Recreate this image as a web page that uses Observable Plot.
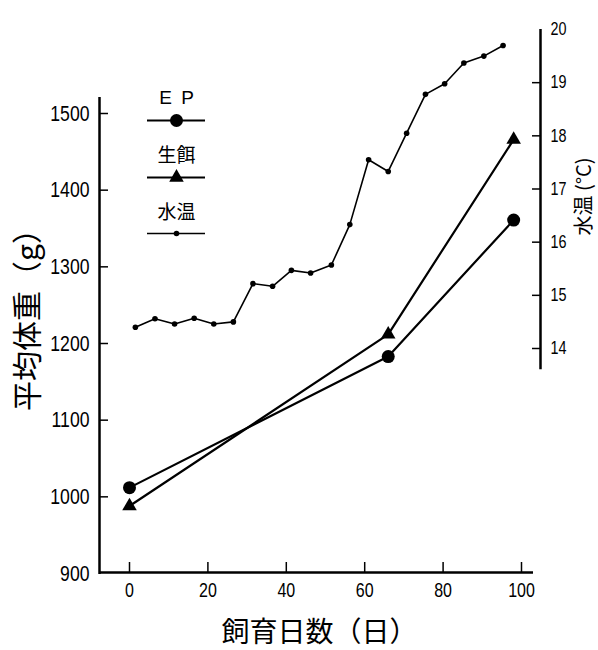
<!DOCTYPE html>
<html>
<head>
<meta charset="utf-8">
<script src="https://cdn.jsdelivr.net/npm/d3@7"></script>
<script src="https://cdn.jsdelivr.net/npm/@observablehq/plot@0.6"></script>
<style>
  html, body { margin: 0; padding: 0; background: #fff; }
  #chart svg { display: block; }
</style>
</head>
<body>
<div id="chart"></div>
<script>
// ---- data ----
const days = [0, 66, 98];
const epWeight = [1012, 1183, 1361];
const liveFeedWeight = [988, 1212, 1466];
const tempDays = [1.5, 6.5, 11.5, 16.5, 21.5, 26.5, 31.5, 36.5, 41.3, 46.2, 51.5, 56.2, 61, 66, 70.7, 75.5, 80.4, 85.3, 90.4, 95.3];
const waterTemp = [14.40, 14.56, 14.46, 14.57, 14.46, 14.50, 15.22, 15.17, 15.47, 15.42, 15.57, 16.33, 17.55, 17.33, 18.05, 18.78, 18.98, 19.37, 19.50, 19.70];
const xTicks = [0, 20, 40, 60, 80, 100];
const yTicks = [900, 1000, 1100, 1200, 1300, 1400, 1500];
const tempTicks = [14, 15, 16, 17, 18, 19, 20];
const seriesNames = ["E P", "生餌", "水温"];

// ---- layout ----
const W = 598, H = 650;
const X_RANGE = [129, 521];
const Y_RANGE = [573, 113];
const xPx = d3.scaleLinear([0, 100], X_RANGE);
const yPx = d3.scaleLinear([900, 1500], Y_RANGE);
const xAt = px => xPx.invert(px);
const yAt = px => yPx.invert(px);
// temperature (right axis) expressed on the weight scale
const tempToW = d3.scaleLinear([14, 20], [yAt(348), yAt(29)]);

const NUM_FONT = "'Liberation Sans', Arial, sans-serif";
const JP_FONT = "'Noto Sans CJK JP', sans-serif";

const ep = days.map((d, i) => ({day: d, w: epWeight[i]}));
const live = days.map((d, i) => ({day: d, w: liveFeedWeight[i]}));
const temp = tempDays.map((d, i) => ({day: d, w: tempToW(waterTemp[i])}));

const leftX = xAt(99), bottomRightX = xAt(533), rightX = xAt(540);
const legX1 = xAt(147), legX2 = xAt(205), legXc = xAt(176);

const plot = Plot.plot({
  width: W, height: H,
  marginLeft: 99, marginRight: W - 540, marginTop: 20, marginBottom: H - 573,
  style: {fontFamily: NUM_FONT, background: "#fff", color: "#000"},
  x: {domain: [0, 100], range: X_RANGE, axis: null},
  y: {domain: [900, 1500], range: Y_RANGE, axis: null},
  marks: [
    // axes lines
    Plot.ruleX([leftX], {x: d => d, y1: yAt(574), y2: yAt(97), stroke: "#000", strokeWidth: 2.5}),
    Plot.ruleY([yAt(572)], {y: d => d, x1: leftX, x2: bottomRightX, stroke: "#000", strokeWidth: 2.5}),
    Plot.ruleX([rightX], {x: d => d, y1: tempToW(13.6), y2: tempToW(20), stroke: "#000", strokeWidth: 2.5}),
    // ticks (pointing inward)
    Plot.ruleY(yTicks.slice(1), {y: d => d, x1: leftX, x2: xAt(108), stroke: "#000", strokeWidth: 1.5}),
    Plot.ruleX(xTicks, {x: d => d, y1: yAt(572), y2: yAt(562), stroke: "#000", strokeWidth: 1.5}),
    Plot.ruleY(tempTicks.slice(0, -1), {y: d => tempToW(d), x1: xAt(532), x2: rightX, stroke: "#000", strokeWidth: 1.5}),
    // tick labels
    Plot.axisY(yTicks, {anchor: "left", tickSize: 0, tickPadding: 10, fontSize: 22, label: null,
      tickFormat: d => String(d)}),
    Plot.axisX(xTicks, {anchor: "bottom", tickSize: 0, tickPadding: 9, fontSize: 20, label: null,
      tickFormat: d => String(d)}),
    Plot.axisY(tempTicks.map(t => tempToW(t)), {anchor: "right", tickSize: 0, tickPadding: 10, fontSize: 18, label: null,
      tickFormat: (d, i) => String(tempTicks[i])}),
    // axis titles
    Plot.text(["平均体重（g）"], {x: xAt(28), y: yAt(312), rotate: -90, fontSize: 30, fontFamily: JP_FONT, fill: "#000"}),
    Plot.text(["飼育日数（日）"], {x: xAt(319), y: yAt(633), fontSize: 28, fontFamily: JP_FONT, fill: "#000"}),
    Plot.text(["水温 (°C)"], {x: xAt(584), y: yAt(196), rotate: -90, fontSize: 20, fontFamily: JP_FONT, fill: "#000"}),
    // water temperature
    Plot.line(temp, {x: "day", y: "w", stroke: "#000", strokeWidth: 1.6}),
    Plot.dot(temp, {x: "day", y: "w", r: 2.8, fill: "#000"}),
    // weights
    Plot.line(ep, {x: "day", y: "w", stroke: "#000", strokeWidth: 2.2}),
    Plot.line(live, {x: "day", y: "w", stroke: "#000", strokeWidth: 2.2}),
    Plot.dot(ep, {x: "day", y: "w", r: 6.5, fill: "#000", symbol: "circle"}),
    Plot.dot(live, {x: "day", y: "w", r: 5.4, fill: "#000", symbol: "triangle"}),
    // legend
    Plot.text([seriesNames[0]], {x: legXc, y: yAt(97), fontSize: 19, fontFamily: NUM_FONT, fill: "#000"}),
    Plot.ruleY([yAt(120)], {y: d => d, x1: legX1, x2: legX2, stroke: "#000", strokeWidth: 2}),
    Plot.dot([yAt(120)], {x: legXc, y: d => d, r: 6.5, fill: "#000", symbol: "circle"}),
    Plot.text([seriesNames[1]], {x: legXc, y: yAt(155), fontSize: 19, fontFamily: JP_FONT, fill: "#000"}),
    Plot.ruleY([yAt(177)], {y: d => d, x1: legX1, x2: legX2, stroke: "#000", strokeWidth: 2}),
    Plot.dot([yAt(177)], {x: legXc, y: d => d, r: 5.4, fill: "#000", symbol: "triangle"}),
    Plot.text([seriesNames[2]], {x: legXc, y: yAt(212), fontSize: 19, fontFamily: JP_FONT, fill: "#000"}),
    Plot.ruleY([yAt(233)], {y: d => d, x1: legX1, x2: legX2, stroke: "#000", strokeWidth: 1.6}),
    Plot.dot([yAt(233)], {x: legXc, y: d => d, r: 2.8, fill: "#000"})
  ]
});
document.getElementById("chart").appendChild(plot);

// condense the tick-label digits like the narrow typeface of the original
d3.select(plot).selectAll('g[aria-label$="tick label"] text').each(function () {
  const len = this.getComputedTextLength();
  if (len > 0) {
    this.setAttribute("textLength", (len * 0.8).toFixed(1));
    this.setAttribute("lengthAdjust", "spacingAndGlyphs");
  }
});
d3.select(plot).selectAll("text").filter(function () { return this.textContent === "E P"; })
  .style("word-spacing", "4px");
</script>
</body>
</html>
